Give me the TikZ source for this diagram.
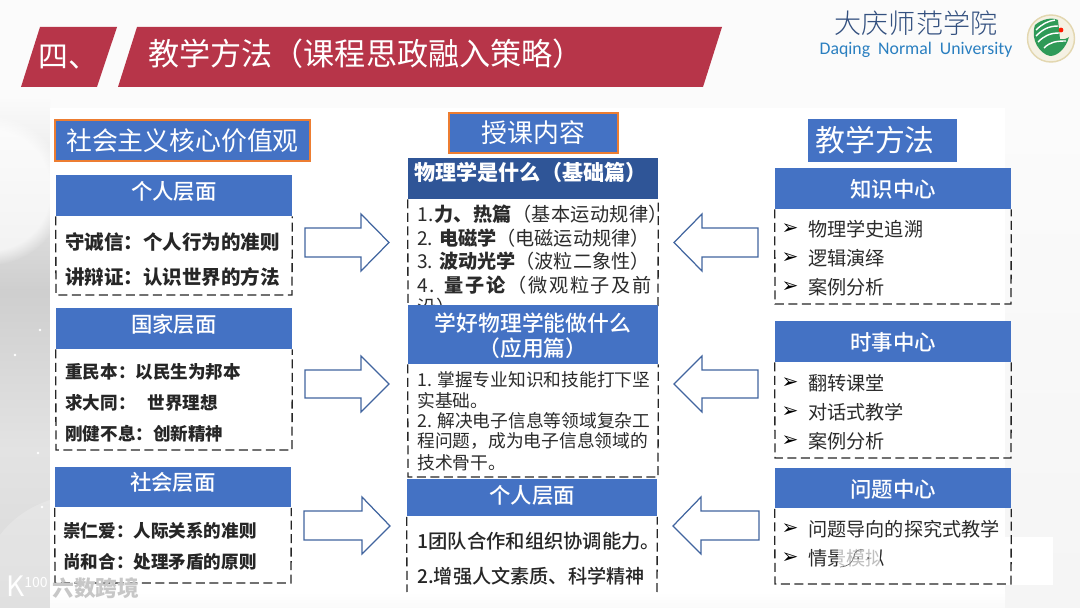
\documentclass[tikz,border=0pt]{standalone}
\usepackage{fontspec}
\setmainfont{Noto Sans CJK SC}
\newfontfamily\medfont{Noto Sans CJK SC Medium}
\newfontfamily\lightfont{Noto Sans CJK SC Light}
\newfontfamily\latinfont{Carlito}
\newfontfamily\bulletfont{DejaVu Sans}
\usetikzlibrary{shadings,fadings}
\definecolor{titlered}{HTML}{B73549}
\definecolor{headblue}{HTML}{4472C4}
\definecolor{darkblue}{HTML}{2F5597}
\definecolor{rimorange}{HTML}{ED7D31}
\definecolor{arrowblue}{HTML}{41659F}
\definecolor{bodygrey}{HTML}{2B2B2B}
\definecolor{schoolblue}{HTML}{33507F}
\definecolor{schoolcyan}{HTML}{2A7FC0}
\definecolor{logogreen}{HTML}{2E9A57}
\definecolor{logotan}{HTML}{E3D7B0}
\tikzset{
  headbox/.style={fill=headblue,text=white,minimum width=4.72cm,minimum height=.82cm,inner sep=0pt,
    text depth=6pt,font=\fontsize{12.2}{14}\medfont},
  tagbox/.style={fill=headblue,text=white,inner sep=0pt,font=\fontsize{14.7}{17}\selectfont},
  tagrim/.style={draw=rimorange,line width=.8pt},
  dashbody/.style={line width=.75pt,dash pattern=on .18cm off .09cm,color=black!85},
  boldline/.style={anchor=west,inner sep=0pt,text=black!85,font=\fontsize{10}{12}\selectfont\bfseries},
  planeline/.style={anchor=west,inner sep=0pt,text=bodygrey,font=\fontsize{10.9}{12}\selectfont},
  smallline/.style={anchor=west,inner sep=0pt,text=bodygrey,font=\fontsize{10.1}{12}\selectfont},
  bulletmark/.style={inner sep=0pt,text=black,font=\fontsize{11.5}{12}\bulletfont},
  blockarrow/.style={draw=arrowblue,line width=.7pt,fill=white},
  wmark/.style={inner sep=0pt,text=black!22}
}
\begin{document}
\begin{tikzpicture}[x=.02cm,y=-.02cm]
  \useasboundingbox (0,0) rectangle (1080,608);
  % background
  \fill[black!1.5] (0,0) rectangle (1080,608);
  \shade[top color=black!1.5,bottom color=black!4] (1005,100) rectangle (1080,608);
  \shade[top color=black!2,bottom color=black!19] (0,100) rectangle (50,290);
  \shade[top color=black!19,bottom color=black!11] (0,290) rectangle (50,450);
  \shade[top color=black!11,bottom color=black!15] (0,450) rectangle (50,608);
  \begin{scope}
    \clip (0,100) rectangle (50,608);
    \fill[white,opacity=.7,path fading=circle with fuzzy edge 20 percent] (-10,190) circle (75);
  \end{scope}
  \fill[white,opacity=.2] (0,535) .. controls (15,515) and (35,505) .. (50,500) -- (50,608) -- (0,608) -- cycle;
  \fill[white] (50,108) rectangle (1005,592);
  \fill[white] (1005,537) rectangle (1053,585);
  \shade[top color=white,bottom color=black!2] (50,592) rectangle (1005,608);
  \foreach \sx/\sy in {15/355,38/453,40/330,42/507}
    \fill[white] (\sx,\sy) circle (1.3);

  % title bar
  \fill[titlered] (21,87) -- (40,27) -- (117,27) -- (97,87) -- cycle;
  \fill[titlered] (118,87) -- (137,27) -- (722,27) -- (703,87) -- cycle;
  \node[anchor=west,inner sep=0pt,text=white,font=\fontsize{17}{20}\selectfont] (titleno) at (38,57) {四、};
  \node[anchor=west,inner sep=0pt,text=white,font=\fontsize{17.7}{20}\selectfont] (title) at (148,54) {教学方法（课程思政融入策略）};

  % school name
  \node[inner sep=0pt,text=schoolblue,font=\fontsize{15.4}{18}\lightfont] (school) at (916,23) {大庆师范学院};
  \node[inner sep=0pt,text=schoolcyan,font=\fontsize{10.1}{12}\latinfont] (schooleng) at (916,50) {Daqing\ \ Normal\ \ University};
  \fill[logotan!35] (1051,38.5) circle (24);
  \draw[logotan,line width=.8pt] (1051,38.5) circle (23.5);
  \fill[logogreen] (1035,25) .. controls (1042,19) and (1052,17) .. (1058,20) -- (1060,39) .. controls (1064,40) and (1068,38) .. (1069,37) .. controls (1066,48) and (1058,56) .. (1050,56) .. controls (1040,54) and (1030,40) .. (1035,25) -- cycle;
  \draw[white,line width=.8pt] (1036,30) .. controls (1042,24) and (1048,21) .. (1055,20);
  \draw[white,line width=.8pt] (1036,36) .. controls (1042,30) and (1048,26) .. (1058,26);
  \draw[white,line width=.8pt] (1038,42) .. controls (1044,36) and (1050,33) .. (1059,33);
  \draw[white,line width=.8pt] (1044,48) .. controls (1050,42) and (1056,41) .. (1066,41);
  \fill[red!80!orange] (1061,30) circle (2.4);

  % left column
  \node[tagbox,tagrim,minimum width=5.1cm,minimum height=.82cm] (valuetag) at (182.5,140.5) {社会主义核心价值观};

  \node[headbox] (personhead) at (174,195.5) {个人层面};
  \draw[dashbody] (personhead.south west) -- (56,295) -- (292,295) -- (personhead.south east);
  \node[boldline,font=\fontsize{11.1}{12}\selectfont\bfseries] (persona) at (65,242) {守诚信：个人行为的准则};
  \node[boldline,font=\fontsize{11.1}{12}\selectfont\bfseries] (personb) at (65,277) {讲辩证：认识世界的方法};

  \node[headbox] (statehead) at (174,328.5) {国家层面};
  \draw[dashbody] (statehead.south west) -- (56,450) -- (292,450) -- (statehead.south east);
  \node[boldline] (statea) at (65,372) {重民本：以民生为邦本};
  \node[boldline] (stateb) at (65,403) {求大同：\ \ \ 世界理想};
  \node[boldline] (statec) at (65,434) {刚健不息：创新精神};

  \node[headbox] (sochead) at (173,487) {社会层面};
  \draw[dashbody] (sochead.south west) -- (55,583) -- (291,583) -- (sochead.south east);
  \node[boldline] (soca) at (63,531) {崇仁爱：人际关系的准则};
  \node[boldline] (socb) at (63,562) {尚和合：处理矛盾的原则};

  % middle column
  \node[tagbox,tagrim,minimum width=3.38cm,minimum height=.8cm] (lessontag) at (533.5,133) {授课内容};

  \node[headbox,minimum width=5cm,fill=darkblue,text depth=8pt,font=\fontsize{12}{14}\selectfont\bfseries] (basehead) at (533,178.5) {物理学是什么（基础篇）\kern.1cm};
  \draw[dashbody] (basehead.south west) -- (408,306) (658,306) -- (basehead.south east);
  \node[planeline] (basea) at (417,214) {\addfontfeature{LetterSpace=2}1.\textbf{力、热篇}（基本运动规律）};
  \node[planeline] (baseb) at (417,238) {2. \textbf{电磁学}（电磁运动规律）};
  \node[planeline] (basec) at (417,261) {3. \textbf{波动光学}（波粒二象性）};
  \node[planeline] (based) at (417,285) {\addfontfeature{LetterSpace=9}4. \textbf{量子论}（微观粒子及前};
  \node[planeline] (basee) at (417,307) {沿）};

  \node[headbox,minimum width=5cm,minimum height=1.18cm,text depth=0pt,align=center,font=\fontsize{12.4}{14.2}\medfont] (usehead) at (533,334.5) {学好物理学能做什么\\（应用篇）};
  \draw[dashbody] (usehead.south west) -- (408,477) -- (658,477) -- (usehead.south east);
  \node[smallline] (usea) at (417,380) {1. 掌握专业知识和技能打下坚};
  \node[smallline] (useb) at (417,401) {实基础。};
  \node[smallline] (usec) at (417,421) {2. 解决电子信息等领域复杂工};
  \node[smallline] (used) at (417,441) {程问题，成为电子信息领域的};
  \node[smallline] (usee) at (417,463) {技术骨干。};

  \node[headbox,minimum width=5cm,minimum height=.76cm,text depth=4pt] (abilhead) at (532,497.5) {个人层面};
  \draw[dashbody] (abilhead.south west) -- (407,592) (657,592) -- (abilhead.south east);
  \node[boldline,font=\fontsize{11}{12}\medfont] (abila) at (417,541) {1团队合作和组织协调能力。};
  \node[boldline,font=\fontsize{10.9}{12}\medfont] (abilb) at (417,576) {2.增强人文素质、科学精神};

  % right column
  \node[tagbox,minimum width=2.98cm,minimum height=.86cm,font=\fontsize{17}{20}\selectfont] (methodtag) at (882.5,140.5) {教学方法\kern.3cm};

  \node[headbox,text depth=0pt] (knowhead) at (893,188.5) {知识中心};
  \draw[dashbody] (knowhead.south west) -- (775,304) -- (1011,304) -- (knowhead.south east);
  \node[bulletmark] (knowbua) at (790,229) {➢};
  \node[bulletmark] (knowbub) at (790,258) {➢};
  \node[bulletmark] (knowbuc) at (790,287) {➢};
  \node[planeline] (knowa) at (808,229) {物理学史追溯};
  \node[planeline] (knowb) at (808,258) {逻辑演绎};
  \node[planeline] (knowc) at (808,287) {案例分析};

  \node[headbox,text depth=0pt] (newshead) at (893,341.5) {时事中心};
  \draw[dashbody] (newshead.south west) -- (775,458) -- (1011,458) -- (newshead.south east);
  \node[bulletmark] (newsbua) at (790,383) {➢};
  \node[bulletmark] (newsbub) at (790,412) {➢};
  \node[bulletmark] (newsbuc) at (790,441) {➢};
  \node[planeline] (newsa) at (808,383) {翻转课堂};
  \node[planeline] (newsb) at (808,412) {对话式教学};
  \node[planeline] (newsc) at (808,441) {案例分析};

  \node[headbox,text depth=0pt] (askhead) at (893,488) {问题中心};
  \draw[dashbody] (askhead.south west) -- (775,584) -- (1011,584) -- (askhead.south east);
  \node[bulletmark] (askbua) at (790,529) {➢};
  \node[bulletmark] (askbub) at (790,558) {➢};
  \node[planeline] (aska) at (808,529) {问题导向的探究式教学};
  \node[planeline] (askb) at (808,558) {情景模拟};

  % block arrows
  \draw[blockarrow] (305,228) -- (361,228) -- (361,214) -- (389,242.5) -- (361,271) -- (361,257) -- (305,257) -- cycle;
  \draw[blockarrow] (305,370) -- (361,370) -- (361,356) -- (389,384) -- (361,412) -- (361,398) -- (305,398) -- cycle;
  \draw[blockarrow] (304,511) -- (362,511) -- (362,497) -- (390,526) -- (362,554) -- (362,540) -- (304,540) -- cycle;
  \draw[blockarrow] (758,228) -- (702,228) -- (702,214) -- (674,242.5) -- (702,271) -- (702,257) -- (758,257) -- cycle;
  \draw[blockarrow] (758,370) -- (702,370) -- (702,356) -- (674,384) -- (702,412) -- (702,398) -- (758,398) -- cycle;
  \draw[blockarrow] (759,511) -- (701,511) -- (701,497) -- (673,526) -- (701,554) -- (701,540) -- (759,540) -- cycle;

  % watermark
  \node[inner sep=0pt,text=white,font=\fontsize{16}{18}\selectfont] (wmk) at (27,586) {K\raisebox{5pt}{\fontsize{8}{10}\selectfont 100}};
  \node[wmark,anchor=west,font=\fontsize{12.4}{14}\selectfont\bfseries] (wmtext) at (52,588) {六数跨境};
  \fill[white,opacity=.7] (838,548) rectangle (880,570);
  \draw[black!55,line width=.4pt] (840,567) .. controls (848,566) and (852,565) .. (855,553) .. controls (857,550) and (860,549) .. (864,550);
  \fill[black!70] (858,558) circle (1) (868,558) circle (1);
\end{tikzpicture}
\end{document}
